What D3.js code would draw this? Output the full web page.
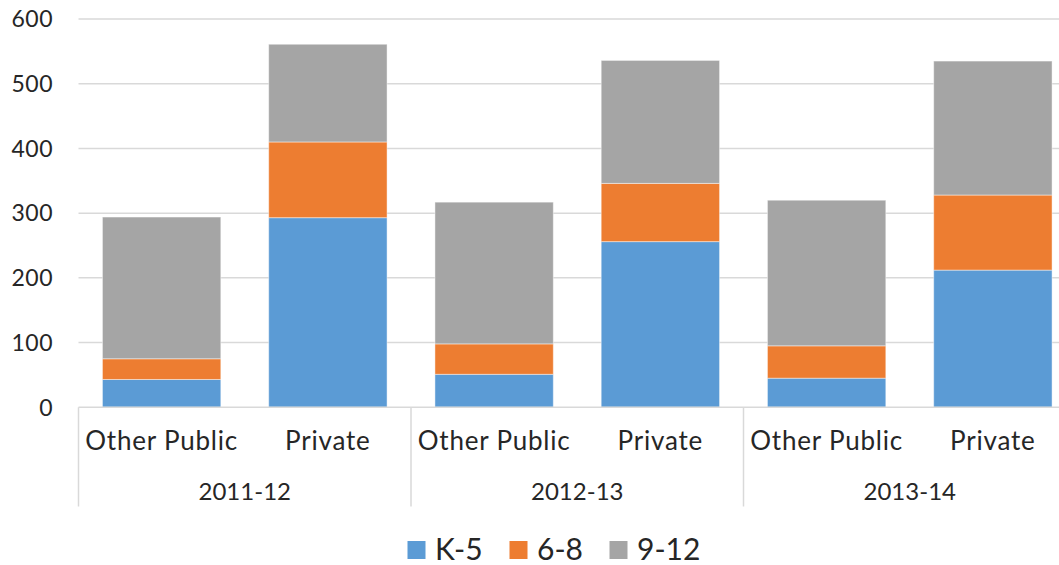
<!DOCTYPE html>
<html>
<head>
<meta charset="utf-8">
<script src="https://cdn.jsdelivr.net/npm/d3@7"></script>
<style>
  html, body { margin: 0; padding: 0; background: #fff; }
  svg { display: block; }
  text { font-family: Lato, "Noto Sans", sans-serif; fill: #262626; }
</style>
</head>
<body>
<svg id="chart" width="1059" height="565"></svg>
<script>
// School years and sector categories within each year
const years = ["2011-12", "2012-13", "2013-14"];
const sectors = ["Other Public", "Private"];

// Grade band series (one value per year × sector, in order)
const seriesNames = ["K-5", "6-8", "9-12"];
const k5   = [43, 293, 51, 256, 45, 212];
const g6_8 = [32, 117, 47, 90, 50, 116];
const g9_12 = [219, 151, 219, 190, 225, 207];
const colors = ["#5B9BD5", "#ED7D31", "#A5A5A5"];
const yTicks = [0, 100, 200, 300, 400, 500, 600];

// Flatten into rows for stacking
const rows = [];
years.forEach((yr, i) => sectors.forEach((s, j) => {
  const idx = i * sectors.length + j;
  rows.push({ key: yr + "|" + s, year: yr, sector: s,
              "K-5": k5[idx], "6-8": g6_8[idx], "9-12": g9_12[idx] });
}));

const svg = d3.select("#chart");
const plotLeft = 78.5, plotRight = 1076, plotTop = 19, plotBottom = 407.3;

const x = d3.scaleBand()
  .domain(rows.map(d => d.key))
  .range([plotLeft, plotRight])
  .paddingInner(0.288)
  .paddingOuter(0.144);

const y = d3.scaleLinear().domain([0, 600]).range([plotBottom, plotTop]);

// Horizontal gridlines
svg.append("g")
  .selectAll("line")
  .data(yTicks.filter(t => t > 0))
  .join("line")
  .attr("x1", plotLeft).attr("x2", 1059)
  .attr("y1", d => y(d)).attr("y2", d => y(d))
  .attr("stroke", "#d9d9d9").attr("stroke-width", 1.5);

// Y axis labels
svg.append("g")
  .selectAll("text")
  .data(yTicks)
  .join("text")
  .attr("x", 53)
  .attr("y", d => y(d))
  .attr("dy", "0.36em")
  .attr("text-anchor", "end")
  .style("font-size", "23px")
  .style("letter-spacing", "0.5px")
  .text(d => d);

// Stacked bars
const stack = d3.stack().keys(seriesNames)(rows);
svg.append("g")
  .selectAll("g")
  .data(stack)
  .join("g")
  .attr("fill", (d, i) => colors[i])
  .selectAll("rect")
  .data(d => d)
  .join("rect")
  .attr("x", d => x(d.data.key))
  .attr("width", x.bandwidth())
  .attr("y", d => y(d[1]))
  .attr("height", d => y(d[0]) - y(d[1]))
  .attr("stroke", "rgba(255,255,255,0.45)")
  .attr("stroke-width", 1);

// Category axis baseline
svg.append("line")
  .attr("x1", plotLeft).attr("x2", 1059)
  .attr("y1", plotBottom).attr("y2", plotBottom)
  .attr("stroke", "#d9d9d9").attr("stroke-width", 1.5);

// Group dividers
const groupStep = (plotRight - plotLeft) / years.length;
svg.append("g")
  .selectAll("line")
  .data(years)
  .join("line")
  .attr("x1", (d, i) => plotLeft + i * groupStep)
  .attr("x2", (d, i) => plotLeft + i * groupStep)
  .attr("y1", plotBottom).attr("y2", 506.5)
  .attr("stroke", "#d9d9d9").attr("stroke-width", 1.5);

// Sector labels
svg.append("g")
  .selectAll("text")
  .data(rows)
  .join("text")
  .attr("x", d => x(d.key) + x.bandwidth() / 2)
  .attr("y", 441)
  .attr("dy", "0.36em")
  .attr("text-anchor", "middle")
  .style("font-size", "26px")
  .style("letter-spacing", "0.8px")
  .text(d => d.sector);

// Year labels
svg.append("g")
  .selectAll("text")
  .data(years)
  .join("text")
  .attr("x", (d, i) => plotLeft + (i + 0.5) * groupStep)
  .attr("y", 491)
  .attr("dy", "0.36em")
  .attr("text-anchor", "middle")
  .style("font-size", "24px")
  .text(d => d);

// Legend
const legendItems = [
  { name: "K-5", sx: 407.5, tx: 435 },
  { name: "6-8", sx: 509.5, tx: 537 },
  { name: "9-12", sx: 609.5, tx: 637 }
];
const lg = svg.append("g");
lg.selectAll("rect")
  .data(legendItems)
  .join("rect")
  .attr("x", d => d.sx).attr("y", 541)
  .attr("width", 18).attr("height", 18)
  .attr("fill", (d, i) => colors[i]);
lg.selectAll("text")
  .data(legendItems)
  .join("text")
  .attr("x", d => d.tx)
  .attr("y", 549)
  .attr("dy", "0.36em")
  .style("font-size", "30px")
  .text(d => d.name);
</script>
</body>
</html>
